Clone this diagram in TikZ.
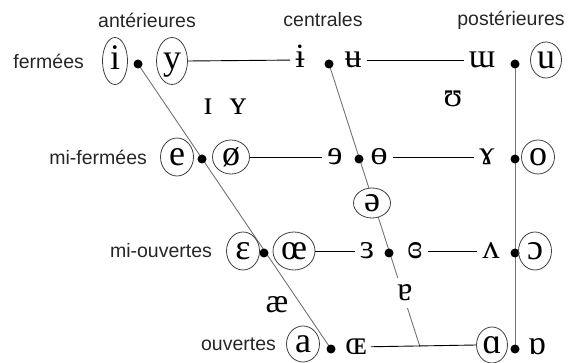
\documentclass[tikz,border=0pt]{standalone}
\usepackage{fontspec}
\setsansfont{Liberation Sans}
\newfontfamily\ipafont{Liberation Serif}
\usetikzlibrary{positioning, shapes.geometric, backgrounds}
\tikzset{%
  hd/.style={font=\sffamily\fontsize{19.5}{22}\selectfont, text=black!85, inner sep=0pt},
  ph/.style={font=\ipafont\fontsize{34}{38}\selectfont, inner sep=1pt, text height=22pt, text depth=6.5pt},
  rd/.style={font=\ipafont\fontsize{36}{40}\selectfont, text height=23pt, text depth=6.5pt,
    draw=black!75, line width=0.8pt, ellipse, inner sep=-6pt, minimum width=33pt, minimum height=38pt},
  pt/.style={circle, fill=black, inner sep=0pt, minimum size=9pt},
  hl/.style={line width=0.9pt},
  dl/.style={black!55, line width=0.9pt}
}

\begin{document}
\begin{tikzpicture}[x=1pt, y=-1pt]
  \useasboundingbox (0,0) rectangle (570,363);
  % column heads
  \node[hd] (ant) at (147,20) {antérieures};
  \node[hd] (cen) at (323,20) {centrales};
  \node[hd] (pos) at (511,20) {postérieures};
  % dots
  \node[pt] (d1) at (138,64)  {};
  \node[pt] (d2) at (202,159) {};
  \node[pt] (d3) at (264,253) {};
  \node[pt] (d4) at (331,349) {};
  \node[pt] (c1) at (329,64)  {};
  \node[pt] (c2) at (359,159) {};
  \node[pt] (c3) at (389,253) {};
  \node[pt] (b1) at (515,64)  {};
  \node[pt] (b2) at (515,159) {};
  \node[pt] (b3) at (515,253) {};
  \node[pt] (b4) at (515,349) {};
  % fermees
  \node[rd, minimum width=25pt, minimum height=47pt] (i) at (115,61) {i};
  \node[rd, minimum width=31pt, minimum height=47pt] (y) at (172,61) {y};
  \node[ph] (ibar) at (300,60) {ɨ};
  \node[ph] (ubar) at (353,60) {ʉ};
  \node[ph] (ww)   at (482,60) {ɯ};
  \node[rd, minimum width=31pt, minimum height=36pt] (u) at (546,60) {u};
  \node[hd] (fer) [left = 18pt of i] {fermées};
  % lax
  \node[ph] (smi) at (208,107) {ɪ};
  \node[ph] (smy) at (238,107) {ʏ};
  \node[ph] (ups) at (453,99)  {ʊ};
  % mi-fermees
  \node[rd] (e)    at (177,157) {e};
  \node[rd, minimum width=37pt, minimum height=34pt] (oslash) at (231,157) {ø};
  \node[ph] (reve) at (335,157) {ɘ};
  \node[ph] (obar) at (379,157) {ɵ};
  \node[ph] (gam)  at (487,157) {ɤ};
  \node[rd, minimum height=34pt] (o) at (538,157) {o};
  \node[hd] (mif) [left = 13pt of e] {mi-fermées};
  \node[rd, fill=white, minimum width=37pt, minimum height=30pt] (schwa) at (372,203) {ə};
  % mi-ouvertes
  \node[rd] (eps)  at (243,251) {ɛ};
  \node[rd, minimum width=42pt] (oe) at (294,251) {œ};
  \node[ph] (reps) at (367,251) {ɜ};
  \node[ph] (ceps) at (415,251) {ɞ};
  \node[ph] (turnv) at (491,251) {ʌ};
  \node[rd] (oo)   at (535,251) {ɔ};
  \node[hd] (mio) [left = 14pt of eps] {mi-ouvertes};
  \node[ph] (ae) at (277,305) {æ};
  \node[ph, fill=white] (turna) at (405,293) {ɐ};
  % ouvertes
  \node[rd, minimum height=36pt] (a) at (303,344) {a};
  \node[ph] (OE)    at (356,347) {ɶ};
  \node[rd, minimum width=31pt, minimum height=36pt] (alpha) at (492,345) {ɑ};
  \node[ph] (turnalpha) at (537,347) {ɒ};
  \node[hd] (ouv) [left = 10pt of a] {ouvertes};
  \coordinate (m4) at (420,347);
  % lines
  \draw[hl, shorten >=4pt] (y.east) -- (ibar);
  \draw[hl, shorten <=4pt, shorten >=4pt] (ubar) -- (ww);
  \draw[hl, shorten >=4pt] (oslash) -- (reve);
  \draw[hl, shorten <=4pt, shorten >=4pt] (obar) -- (gam);
  \draw[hl, shorten >=4pt] (oe) -- (reps);
  \draw[hl, shorten <=4pt, shorten >=4pt] (ceps) -- (turnv);
  \draw[hl, shorten <=3pt] (OE) -- (alpha.west);
  \begin{pgfonlayer}{background}
    \draw[dl] (d1.center) -- (d4.center);
    \draw[dl] (c1.center) -- (m4);
    \draw[dl] (b1.center) -- (b4.center);
  \end{pgfonlayer}
\end{tikzpicture}
\end{document}
